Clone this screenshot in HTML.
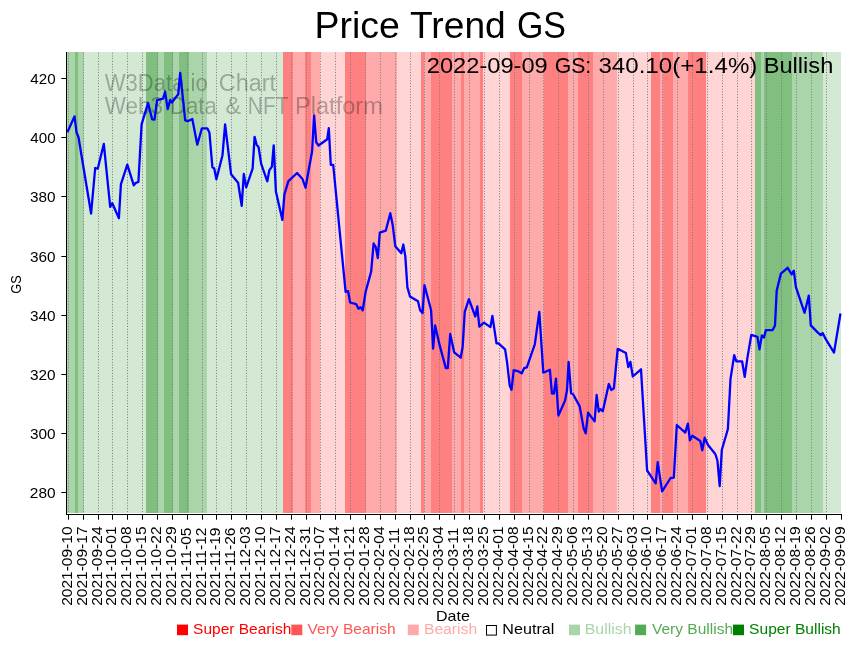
<!DOCTYPE html><html><head><meta charset="utf-8"><style>html,body{margin:0;padding:0;background:#fff;width:857px;height:646px;overflow:hidden}svg{display:block;will-change:transform}text{font-family:"Liberation Sans",sans-serif}</style></head><body>
<svg width="857" height="646" viewBox="0 0 857 646">
<text transform="translate(314.51,37.80) scale(1.0024,1)" font-size="37.4" fill="#000" >Price</text>
<text transform="translate(410.06,37.80) scale(0.9933,1)" font-size="37.4" fill="#000" >Trend</text>
<text transform="translate(516.90,37.80) scale(0.9071,1)" font-size="37.4" fill="#000" >GS</text>
<rect x="67" y="52.0" width="8" height="461.0" fill="#aad4aa"/>
<rect x="75" y="52.0" width="3" height="461.0" fill="#80bf80"/>
<rect x="78" y="52.0" width="6" height="461.0" fill="#aad4aa"/>
<rect x="84" y="52.0" width="62" height="461.0" fill="#d4e9d4"/>
<rect x="146" y="52.0" width="12" height="461.0" fill="#80bf80"/>
<rect x="158" y="52.0" width="6" height="461.0" fill="#aad4aa"/>
<rect x="164" y="52.0" width="9" height="461.0" fill="#80bf80"/>
<rect x="173" y="52.0" width="6" height="461.0" fill="#aad4aa"/>
<rect x="179" y="52.0" width="10" height="461.0" fill="#80bf80"/>
<rect x="189" y="52.0" width="18" height="461.0" fill="#aad4aa"/>
<rect x="207" y="52.0" width="76" height="461.0" fill="#d4e9d4"/>
<rect x="283" y="52.0" width="10" height="461.0" fill="#ff8080"/>
<rect x="293" y="52.0" width="12" height="461.0" fill="#ffaaaa"/>
<rect x="305" y="52.0" width="6" height="461.0" fill="#ff8080"/>
<rect x="311" y="52.0" width="9" height="461.0" fill="#ffaaaa"/>
<rect x="320" y="52.0" width="25" height="461.0" fill="#ffd4d4"/>
<rect x="345" y="52.0" width="21" height="461.0" fill="#ff8080"/>
<rect x="366" y="52.0" width="31" height="461.0" fill="#ffaaaa"/>
<rect x="397" y="52.0" width="24" height="461.0" fill="#ffd4d4"/>
<rect x="421" y="52.0" width="3" height="461.0" fill="#ff8080"/>
<rect x="424" y="52.0" width="7" height="461.0" fill="#ffaaaa"/>
<rect x="431" y="52.0" width="21" height="461.0" fill="#ff8080"/>
<rect x="452" y="52.0" width="9" height="461.0" fill="#ffaaaa"/>
<rect x="461" y="52.0" width="3" height="461.0" fill="#ff8080"/>
<rect x="464" y="52.0" width="16" height="461.0" fill="#ffaaaa"/>
<rect x="480" y="52.0" width="3" height="461.0" fill="#ff8080"/>
<rect x="483" y="52.0" width="27" height="461.0" fill="#ffd4d4"/>
<rect x="510" y="52.0" width="12" height="461.0" fill="#ff8080"/>
<rect x="522" y="52.0" width="22" height="461.0" fill="#ffaaaa"/>
<rect x="544" y="52.0" width="24" height="461.0" fill="#ff8080"/>
<rect x="568" y="52.0" width="10" height="461.0" fill="#ffaaaa"/>
<rect x="578" y="52.0" width="15" height="461.0" fill="#ff8080"/>
<rect x="593" y="52.0" width="24" height="461.0" fill="#ffaaaa"/>
<rect x="617" y="52.0" width="34" height="461.0" fill="#ffd4d4"/>
<rect x="651" y="52.0" width="9" height="461.0" fill="#ff8080"/>
<rect x="660" y="52.0" width="3" height="461.0" fill="#ffaaaa"/>
<rect x="663" y="52.0" width="10" height="461.0" fill="#ff8080"/>
<rect x="673" y="52.0" width="15" height="461.0" fill="#ffaaaa"/>
<rect x="688" y="52.0" width="18" height="461.0" fill="#ff8080"/>
<rect x="706" y="52.0" width="49" height="461.0" fill="#ffd4d4"/>
<rect x="755" y="52.0" width="6" height="461.0" fill="#80bf80"/>
<rect x="761" y="52.0" width="3" height="461.0" fill="#aad4aa"/>
<rect x="764" y="52.0" width="28" height="461.0" fill="#80bf80"/>
<rect x="792" y="52.0" width="31" height="461.0" fill="#aad4aa"/>
<rect x="823" y="52.0" width="18" height="461.0" fill="#d4e9d4"/>
<line x1="68.5" y1="513.0" x2="68.5" y2="52.0" stroke="#7a7a7a" stroke-width="1" stroke-dasharray="1 1.7593" stroke-dashoffset="1.56"/>
<line x1="83.5" y1="513.0" x2="83.5" y2="52.0" stroke="#7a7a7a" stroke-width="1" stroke-dasharray="1 1.7593" stroke-dashoffset="1.56"/>
<line x1="98.5" y1="513.0" x2="98.5" y2="52.0" stroke="#7a7a7a" stroke-width="1" stroke-dasharray="1 1.7593" stroke-dashoffset="1.56"/>
<line x1="112.5" y1="513.0" x2="112.5" y2="52.0" stroke="#7a7a7a" stroke-width="1" stroke-dasharray="1 1.7593" stroke-dashoffset="1.56"/>
<line x1="127.5" y1="513.0" x2="127.5" y2="52.0" stroke="#7a7a7a" stroke-width="1" stroke-dasharray="1 1.7593" stroke-dashoffset="1.56"/>
<line x1="142.5" y1="513.0" x2="142.5" y2="52.0" stroke="#7a7a7a" stroke-width="1" stroke-dasharray="1 1.7593" stroke-dashoffset="1.56"/>
<line x1="157.5" y1="513.0" x2="157.5" y2="52.0" stroke="#7a7a7a" stroke-width="1" stroke-dasharray="1 1.7593" stroke-dashoffset="1.56"/>
<line x1="172.5" y1="513.0" x2="172.5" y2="52.0" stroke="#7a7a7a" stroke-width="1" stroke-dasharray="1 1.7593" stroke-dashoffset="1.56"/>
<line x1="187.5" y1="513.0" x2="187.5" y2="52.0" stroke="#7a7a7a" stroke-width="1" stroke-dasharray="1 1.7593" stroke-dashoffset="1.56"/>
<line x1="202.5" y1="513.0" x2="202.5" y2="52.0" stroke="#7a7a7a" stroke-width="1" stroke-dasharray="1 1.7593" stroke-dashoffset="1.56"/>
<line x1="216.5" y1="513.0" x2="216.5" y2="52.0" stroke="#7a7a7a" stroke-width="1" stroke-dasharray="1 1.7593" stroke-dashoffset="1.56"/>
<line x1="231.5" y1="513.0" x2="231.5" y2="52.0" stroke="#7a7a7a" stroke-width="1" stroke-dasharray="1 1.7593" stroke-dashoffset="1.56"/>
<line x1="246.5" y1="513.0" x2="246.5" y2="52.0" stroke="#7a7a7a" stroke-width="1" stroke-dasharray="1 1.7593" stroke-dashoffset="1.56"/>
<line x1="261.5" y1="513.0" x2="261.5" y2="52.0" stroke="#7a7a7a" stroke-width="1" stroke-dasharray="1 1.7593" stroke-dashoffset="1.56"/>
<line x1="276.5" y1="513.0" x2="276.5" y2="52.0" stroke="#7a7a7a" stroke-width="1" stroke-dasharray="1 1.7593" stroke-dashoffset="1.56"/>
<line x1="291.5" y1="513.0" x2="291.5" y2="52.0" stroke="#7a7a7a" stroke-width="1" stroke-dasharray="1 1.7593" stroke-dashoffset="1.56"/>
<line x1="306.5" y1="513.0" x2="306.5" y2="52.0" stroke="#7a7a7a" stroke-width="1" stroke-dasharray="1 1.7593" stroke-dashoffset="1.56"/>
<line x1="320.5" y1="513.0" x2="320.5" y2="52.0" stroke="#7a7a7a" stroke-width="1" stroke-dasharray="1 1.7593" stroke-dashoffset="1.56"/>
<line x1="335.5" y1="513.0" x2="335.5" y2="52.0" stroke="#7a7a7a" stroke-width="1" stroke-dasharray="1 1.7593" stroke-dashoffset="1.56"/>
<line x1="350.5" y1="513.0" x2="350.5" y2="52.0" stroke="#7a7a7a" stroke-width="1" stroke-dasharray="1 1.7593" stroke-dashoffset="1.56"/>
<line x1="365.5" y1="513.0" x2="365.5" y2="52.0" stroke="#7a7a7a" stroke-width="1" stroke-dasharray="1 1.7593" stroke-dashoffset="1.56"/>
<line x1="380.5" y1="513.0" x2="380.5" y2="52.0" stroke="#7a7a7a" stroke-width="1" stroke-dasharray="1 1.7593" stroke-dashoffset="1.56"/>
<line x1="395.5" y1="513.0" x2="395.5" y2="52.0" stroke="#7a7a7a" stroke-width="1" stroke-dasharray="1 1.7593" stroke-dashoffset="1.56"/>
<line x1="410.5" y1="513.0" x2="410.5" y2="52.0" stroke="#7a7a7a" stroke-width="1" stroke-dasharray="1 1.7593" stroke-dashoffset="1.56"/>
<line x1="424.5" y1="513.0" x2="424.5" y2="52.0" stroke="#7a7a7a" stroke-width="1" stroke-dasharray="1 1.7593" stroke-dashoffset="1.56"/>
<line x1="439.5" y1="513.0" x2="439.5" y2="52.0" stroke="#7a7a7a" stroke-width="1" stroke-dasharray="1 1.7593" stroke-dashoffset="1.56"/>
<line x1="454.5" y1="513.0" x2="454.5" y2="52.0" stroke="#7a7a7a" stroke-width="1" stroke-dasharray="1 1.7593" stroke-dashoffset="1.56"/>
<line x1="469.5" y1="513.0" x2="469.5" y2="52.0" stroke="#7a7a7a" stroke-width="1" stroke-dasharray="1 1.7593" stroke-dashoffset="1.56"/>
<line x1="484.5" y1="513.0" x2="484.5" y2="52.0" stroke="#7a7a7a" stroke-width="1" stroke-dasharray="1 1.7593" stroke-dashoffset="1.56"/>
<line x1="499.5" y1="513.0" x2="499.5" y2="52.0" stroke="#7a7a7a" stroke-width="1" stroke-dasharray="1 1.7593" stroke-dashoffset="1.56"/>
<line x1="514.5" y1="513.0" x2="514.5" y2="52.0" stroke="#7a7a7a" stroke-width="1" stroke-dasharray="1 1.7593" stroke-dashoffset="1.56"/>
<line x1="529.5" y1="513.0" x2="529.5" y2="52.0" stroke="#7a7a7a" stroke-width="1" stroke-dasharray="1 1.7593" stroke-dashoffset="1.56"/>
<line x1="543.5" y1="513.0" x2="543.5" y2="52.0" stroke="#7a7a7a" stroke-width="1" stroke-dasharray="1 1.7593" stroke-dashoffset="1.56"/>
<line x1="558.5" y1="513.0" x2="558.5" y2="52.0" stroke="#7a7a7a" stroke-width="1" stroke-dasharray="1 1.7593" stroke-dashoffset="1.56"/>
<line x1="573.5" y1="513.0" x2="573.5" y2="52.0" stroke="#7a7a7a" stroke-width="1" stroke-dasharray="1 1.7593" stroke-dashoffset="1.56"/>
<line x1="588.5" y1="513.0" x2="588.5" y2="52.0" stroke="#7a7a7a" stroke-width="1" stroke-dasharray="1 1.7593" stroke-dashoffset="1.56"/>
<line x1="603.5" y1="513.0" x2="603.5" y2="52.0" stroke="#7a7a7a" stroke-width="1" stroke-dasharray="1 1.7593" stroke-dashoffset="1.56"/>
<line x1="618.5" y1="513.0" x2="618.5" y2="52.0" stroke="#7a7a7a" stroke-width="1" stroke-dasharray="1 1.7593" stroke-dashoffset="1.56"/>
<line x1="633.5" y1="513.0" x2="633.5" y2="52.0" stroke="#7a7a7a" stroke-width="1" stroke-dasharray="1 1.7593" stroke-dashoffset="1.56"/>
<line x1="647.5" y1="513.0" x2="647.5" y2="52.0" stroke="#7a7a7a" stroke-width="1" stroke-dasharray="1 1.7593" stroke-dashoffset="1.56"/>
<line x1="662.5" y1="513.0" x2="662.5" y2="52.0" stroke="#7a7a7a" stroke-width="1" stroke-dasharray="1 1.7593" stroke-dashoffset="1.56"/>
<line x1="677.5" y1="513.0" x2="677.5" y2="52.0" stroke="#7a7a7a" stroke-width="1" stroke-dasharray="1 1.7593" stroke-dashoffset="1.56"/>
<line x1="692.5" y1="513.0" x2="692.5" y2="52.0" stroke="#7a7a7a" stroke-width="1" stroke-dasharray="1 1.7593" stroke-dashoffset="1.56"/>
<line x1="707.5" y1="513.0" x2="707.5" y2="52.0" stroke="#7a7a7a" stroke-width="1" stroke-dasharray="1 1.7593" stroke-dashoffset="1.56"/>
<line x1="722.5" y1="513.0" x2="722.5" y2="52.0" stroke="#7a7a7a" stroke-width="1" stroke-dasharray="1 1.7593" stroke-dashoffset="1.56"/>
<line x1="737.5" y1="513.0" x2="737.5" y2="52.0" stroke="#7a7a7a" stroke-width="1" stroke-dasharray="1 1.7593" stroke-dashoffset="1.56"/>
<line x1="751.5" y1="513.0" x2="751.5" y2="52.0" stroke="#7a7a7a" stroke-width="1" stroke-dasharray="1 1.7593" stroke-dashoffset="1.56"/>
<line x1="766.5" y1="513.0" x2="766.5" y2="52.0" stroke="#7a7a7a" stroke-width="1" stroke-dasharray="1 1.7593" stroke-dashoffset="1.56"/>
<line x1="781.5" y1="513.0" x2="781.5" y2="52.0" stroke="#7a7a7a" stroke-width="1" stroke-dasharray="1 1.7593" stroke-dashoffset="1.56"/>
<line x1="796.5" y1="513.0" x2="796.5" y2="52.0" stroke="#7a7a7a" stroke-width="1" stroke-dasharray="1 1.7593" stroke-dashoffset="1.56"/>
<line x1="811.5" y1="513.0" x2="811.5" y2="52.0" stroke="#7a7a7a" stroke-width="1" stroke-dasharray="1 1.7593" stroke-dashoffset="1.56"/>
<line x1="826.5" y1="513.0" x2="826.5" y2="52.0" stroke="#7a7a7a" stroke-width="1" stroke-dasharray="1 1.7593" stroke-dashoffset="1.56"/>
<text transform="translate(104.79,90.60) scale(0.9461,1)" font-size="23.3" fill="#000" fill-opacity="0.28">W3Data.io</text>
<text transform="translate(218.73,90.60) scale(1.0067,1)" font-size="23.3" fill="#000" fill-opacity="0.28">Chart</text>
<text transform="translate(104.79,113.60) scale(0.9646,1)" font-size="23.3" fill="#000" fill-opacity="0.28">Web3</text>
<text transform="translate(169.97,113.60) scale(0.9535,1)" font-size="23.3" fill="#000" fill-opacity="0.28">Data</text>
<text transform="translate(225.58,113.60) scale(1.0078,1)" font-size="23.3" fill="#000" fill-opacity="0.28">&amp;</text>
<text transform="translate(247.87,113.60) scale(0.8992,1)" font-size="23.3" fill="#000" fill-opacity="0.28">NFT</text>
<text transform="translate(294.95,113.60) scale(1.0144,1)" font-size="23.3" fill="#000" fill-opacity="0.28">Platform</text>
<text transform="translate(426.82,73.00) scale(1.0463,1)" font-size="22.6" fill="#000" >2022-09-09</text>
<text transform="translate(554.64,73.00) scale(0.9395,1)" font-size="22.6" fill="#000" >GS:</text>
<text transform="translate(598.39,73.00) scale(1.0684,1)" font-size="22.6" fill="#000" >340.10(+1.4%)</text>
<text transform="translate(763.75,73.00) scale(1.0446,1)" font-size="22.6" fill="#000" >Bullish</text>
<polyline fill="none" stroke="#0000ff" stroke-width="2.3" stroke-linejoin="round" stroke-linecap="butt" points="67.4,132.2 74.5,116.4 76.5,132.2 78.5,137.2 91.1,213.5 95.2,168.0 97.8,168.6 103.8,143.9 110.2,206.8 112.3,203.2 118.9,218.3 120.9,184.4 127.3,164.6 133.8,185.3 135.8,182.8 138.4,182.0 141.6,124.3 148.1,102.9 152.1,119.3 154.5,119.6 157.1,100.2 163.1,98.6 165.1,91.8 167.7,109.1 170.2,99.9 171.8,102.5 178.2,94.2 180.2,72.8 185.2,120.3 187.8,121.2 192.3,119.0 197.3,144.7 201.9,128.3 207.3,128.3 209.4,132.4 212.4,167.5 214.2,168.2 216.4,179.3 222.5,155.2 225.1,124.4 231.1,174.3 238.1,182.8 241.7,205.8 243.8,174.0 246.2,187.3 252.6,168.7 254.6,136.8 256.6,144.6 258.6,147.2 261.2,163.9 267.3,181.3 269.3,170.3 271.9,166.7 273.7,145.3 275.9,191.4 282.4,219.9 284.4,194.4 288.4,181.2 297.1,173.0 302.5,179.0 305.5,187.7 312.1,151.2 314.1,115.3 316.2,142.2 318.6,145.5 327.2,139.2 328.8,128.2 330.8,164.9 333.2,164.9 345.6,291.8 348.1,291.2 350.1,302.5 356.1,304.1 358.5,308.8 360.5,307.2 362.7,310.3 365.7,291.5 371.2,271.4 373.6,243.5 375.8,247.2 377.8,258.0 379.8,232.6 385.8,230.6 390.3,213.2 392.7,225.1 395.3,246.2 401.3,253.2 403.3,244.5 405.3,256.3 407.4,287.4 410.0,296.5 418.0,301.2 420.1,310.2 422.5,313.1 424.5,285.2 431.1,310.2 433.1,348.7 435.1,325.4 439.7,345.4 445.8,368.1 447.8,368.2 450.2,334.0 454.2,352.4 460.7,357.7 462.7,346.4 464.7,312.2 468.9,299.2 475.3,316.5 477.3,306.5 479.3,326.6 484.0,322.6 490.4,327.1 492.4,315.8 496.5,343.3 498.5,343.3 505.1,349.3 507.1,362.4 509.7,385.5 511.5,389.8 513.7,370.1 518.6,371.4 521.8,373.3 524.2,368.1 526.8,367.3 534.8,344.3 539.3,311.8 543.3,372.7 549.9,369.7 551.9,393.5 553.9,393.5 556.0,378.7 558.4,415.5 565.0,400.8 567.0,390.3 568.6,361.9 571.1,393.3 573.1,394.3 579.7,406.4 583.7,428.5 585.7,433.4 588.1,412.7 594.6,421.4 596.6,395.0 598.8,411.7 600.6,409.1 602.8,411.3 608.8,384.0 611.3,390.0 613.9,388.3 617.7,348.8 625.9,353.1 628.3,367.1 630.4,361.9 632.8,376.5 641.0,369.3 647.1,470.5 655.7,483.3 657.7,462.2 662.1,491.3 670.6,478.0 673.8,477.6 676.8,425.0 685.2,432.6 687.9,423.6 689.9,440.3 692.3,435.7 700.3,441.0 702.3,450.3 704.7,437.7 708.0,445.0 715.3,454.0 717.4,460.5 719.7,486.1 721.8,450.0 727.9,429.0 730.5,378.9 734.2,355.2 736.3,361.3 742.1,361.3 744.7,376.9 747.4,357.9 751.3,334.9 757.4,336.8 759.5,349.3 761.9,335.4 763.9,337.6 765.9,330.1 772.7,330.1 775.0,325.4 776.7,290.6 780.9,273.6 787.6,267.8 791.7,274.3 793.8,270.7 795.9,287.2 804.6,312.8 808.8,295.6 810.8,325.4 817.6,332.4 820.7,335.1 822.7,333.1 825.0,337.8 834.0,352.6 840.5,313.5"/>
<rect x="66" y="52.0" width="1" height="463.0" fill="#000"/>
<rect x="66" y="514" width="776" height="1" fill="#000"/>
<line x1="61.3" y1="492.50" x2="66" y2="492.50" stroke="#000" stroke-width="1"/>
<text transform="translate(29.83,498.00) scale(1.1110,1)" font-size="13.9" fill="#000" >280</text>
<line x1="61.3" y1="433.50" x2="66" y2="433.50" stroke="#000" stroke-width="1"/>
<text transform="translate(30.03,439.00) scale(1.1023,1)" font-size="13.9" fill="#000" >300</text>
<line x1="61.3" y1="374.50" x2="66" y2="374.50" stroke="#000" stroke-width="1"/>
<text transform="translate(30.03,380.00) scale(1.1023,1)" font-size="13.9" fill="#000" >320</text>
<line x1="61.3" y1="315.50" x2="66" y2="315.50" stroke="#000" stroke-width="1"/>
<text transform="translate(30.03,321.00) scale(1.1023,1)" font-size="13.9" fill="#000" >340</text>
<line x1="61.3" y1="256.50" x2="66" y2="256.50" stroke="#000" stroke-width="1"/>
<text transform="translate(30.03,262.00) scale(1.1023,1)" font-size="13.9" fill="#000" >360</text>
<line x1="61.3" y1="196.50" x2="66" y2="196.50" stroke="#000" stroke-width="1"/>
<text transform="translate(30.03,202.00) scale(1.1023,1)" font-size="13.9" fill="#000" >380</text>
<line x1="61.3" y1="137.50" x2="66" y2="137.50" stroke="#000" stroke-width="1"/>
<text transform="translate(30.26,143.00) scale(1.0920,1)" font-size="13.9" fill="#000" >400</text>
<line x1="61.3" y1="78.50" x2="66" y2="78.50" stroke="#000" stroke-width="1"/>
<text transform="translate(30.26,84.00) scale(1.0920,1)" font-size="13.9" fill="#000" >420</text>
<line x1="68.5" y1="515" x2="68.5" y2="519.7" stroke="#000" stroke-width="1"/>
<text transform="translate(71.70,605.78) rotate(-90) scale(1.1162,1)" font-size="13.9" fill="#000" >2021-09-10</text>
<line x1="83.5" y1="515" x2="83.5" y2="519.7" stroke="#000" stroke-width="1"/>
<text transform="translate(86.70,605.78) rotate(-90) scale(1.1162,1)" font-size="13.9" fill="#000" >2021-09-17</text>
<line x1="98.5" y1="515" x2="98.5" y2="519.7" stroke="#000" stroke-width="1"/>
<text transform="translate(101.70,605.78) rotate(-90) scale(1.1162,1)" font-size="13.9" fill="#000" >2021-09-24</text>
<line x1="112.5" y1="515" x2="112.5" y2="519.7" stroke="#000" stroke-width="1"/>
<text transform="translate(115.70,605.78) rotate(-90) scale(1.1162,1)" font-size="13.9" fill="#000" >2021-10-01</text>
<line x1="127.5" y1="515" x2="127.5" y2="519.7" stroke="#000" stroke-width="1"/>
<text transform="translate(130.70,605.78) rotate(-90) scale(1.1162,1)" font-size="13.9" fill="#000" >2021-10-08</text>
<line x1="142.5" y1="515" x2="142.5" y2="519.7" stroke="#000" stroke-width="1"/>
<text transform="translate(145.70,605.78) rotate(-90) scale(1.1162,1)" font-size="13.9" fill="#000" >2021-10-15</text>
<line x1="157.5" y1="515" x2="157.5" y2="519.7" stroke="#000" stroke-width="1"/>
<text transform="translate(160.70,605.78) rotate(-90) scale(1.1162,1)" font-size="13.9" fill="#000" >2021-10-22</text>
<line x1="172.5" y1="515" x2="172.5" y2="519.7" stroke="#000" stroke-width="1"/>
<text transform="translate(175.70,605.78) rotate(-90) scale(1.1162,1)" font-size="13.9" fill="#000" >2021-10-29</text>
<line x1="187.5" y1="515" x2="187.5" y2="519.7" stroke="#000" stroke-width="1"/>
<text transform="translate(190.70,605.78) rotate(-90) scale(1.1162,1)" font-size="13.9" fill="#000" >2021-11-05</text>
<line x1="202.5" y1="515" x2="202.5" y2="519.7" stroke="#000" stroke-width="1"/>
<text transform="translate(205.70,605.78) rotate(-90) scale(1.1162,1)" font-size="13.9" fill="#000" >2021-11-12</text>
<line x1="216.5" y1="515" x2="216.5" y2="519.7" stroke="#000" stroke-width="1"/>
<text transform="translate(219.70,605.78) rotate(-90) scale(1.1162,1)" font-size="13.9" fill="#000" >2021-11-19</text>
<line x1="231.5" y1="515" x2="231.5" y2="519.7" stroke="#000" stroke-width="1"/>
<text transform="translate(234.70,605.78) rotate(-90) scale(1.1162,1)" font-size="13.9" fill="#000" >2021-11-26</text>
<line x1="246.5" y1="515" x2="246.5" y2="519.7" stroke="#000" stroke-width="1"/>
<text transform="translate(249.70,605.78) rotate(-90) scale(1.1162,1)" font-size="13.9" fill="#000" >2021-12-03</text>
<line x1="261.5" y1="515" x2="261.5" y2="519.7" stroke="#000" stroke-width="1"/>
<text transform="translate(264.70,605.78) rotate(-90) scale(1.1162,1)" font-size="13.9" fill="#000" >2021-12-10</text>
<line x1="276.5" y1="515" x2="276.5" y2="519.7" stroke="#000" stroke-width="1"/>
<text transform="translate(279.70,605.78) rotate(-90) scale(1.1162,1)" font-size="13.9" fill="#000" >2021-12-17</text>
<line x1="291.5" y1="515" x2="291.5" y2="519.7" stroke="#000" stroke-width="1"/>
<text transform="translate(294.70,605.78) rotate(-90) scale(1.1162,1)" font-size="13.9" fill="#000" >2021-12-24</text>
<line x1="306.5" y1="515" x2="306.5" y2="519.7" stroke="#000" stroke-width="1"/>
<text transform="translate(309.70,605.78) rotate(-90) scale(1.1162,1)" font-size="13.9" fill="#000" >2021-12-31</text>
<line x1="320.5" y1="515" x2="320.5" y2="519.7" stroke="#000" stroke-width="1"/>
<text transform="translate(323.70,605.78) rotate(-90) scale(1.1162,1)" font-size="13.9" fill="#000" >2022-01-07</text>
<line x1="335.5" y1="515" x2="335.5" y2="519.7" stroke="#000" stroke-width="1"/>
<text transform="translate(338.70,605.78) rotate(-90) scale(1.1162,1)" font-size="13.9" fill="#000" >2022-01-14</text>
<line x1="350.5" y1="515" x2="350.5" y2="519.7" stroke="#000" stroke-width="1"/>
<text transform="translate(353.70,605.78) rotate(-90) scale(1.1162,1)" font-size="13.9" fill="#000" >2022-01-21</text>
<line x1="365.5" y1="515" x2="365.5" y2="519.7" stroke="#000" stroke-width="1"/>
<text transform="translate(368.70,605.78) rotate(-90) scale(1.1162,1)" font-size="13.9" fill="#000" >2022-01-28</text>
<line x1="380.5" y1="515" x2="380.5" y2="519.7" stroke="#000" stroke-width="1"/>
<text transform="translate(383.70,605.78) rotate(-90) scale(1.1162,1)" font-size="13.9" fill="#000" >2022-02-04</text>
<line x1="395.5" y1="515" x2="395.5" y2="519.7" stroke="#000" stroke-width="1"/>
<text transform="translate(398.70,605.78) rotate(-90) scale(1.1162,1)" font-size="13.9" fill="#000" >2022-02-11</text>
<line x1="410.5" y1="515" x2="410.5" y2="519.7" stroke="#000" stroke-width="1"/>
<text transform="translate(413.70,605.78) rotate(-90) scale(1.1162,1)" font-size="13.9" fill="#000" >2022-02-18</text>
<line x1="424.5" y1="515" x2="424.5" y2="519.7" stroke="#000" stroke-width="1"/>
<text transform="translate(427.70,605.78) rotate(-90) scale(1.1162,1)" font-size="13.9" fill="#000" >2022-02-25</text>
<line x1="439.5" y1="515" x2="439.5" y2="519.7" stroke="#000" stroke-width="1"/>
<text transform="translate(442.70,605.78) rotate(-90) scale(1.1162,1)" font-size="13.9" fill="#000" >2022-03-04</text>
<line x1="454.5" y1="515" x2="454.5" y2="519.7" stroke="#000" stroke-width="1"/>
<text transform="translate(457.70,605.78) rotate(-90) scale(1.1162,1)" font-size="13.9" fill="#000" >2022-03-11</text>
<line x1="469.5" y1="515" x2="469.5" y2="519.7" stroke="#000" stroke-width="1"/>
<text transform="translate(472.70,605.78) rotate(-90) scale(1.1162,1)" font-size="13.9" fill="#000" >2022-03-18</text>
<line x1="484.5" y1="515" x2="484.5" y2="519.7" stroke="#000" stroke-width="1"/>
<text transform="translate(487.70,605.78) rotate(-90) scale(1.1162,1)" font-size="13.9" fill="#000" >2022-03-25</text>
<line x1="499.5" y1="515" x2="499.5" y2="519.7" stroke="#000" stroke-width="1"/>
<text transform="translate(502.70,605.78) rotate(-90) scale(1.1162,1)" font-size="13.9" fill="#000" >2022-04-01</text>
<line x1="514.5" y1="515" x2="514.5" y2="519.7" stroke="#000" stroke-width="1"/>
<text transform="translate(517.70,605.78) rotate(-90) scale(1.1162,1)" font-size="13.9" fill="#000" >2022-04-08</text>
<line x1="529.5" y1="515" x2="529.5" y2="519.7" stroke="#000" stroke-width="1"/>
<text transform="translate(532.70,605.78) rotate(-90) scale(1.1162,1)" font-size="13.9" fill="#000" >2022-04-15</text>
<line x1="543.5" y1="515" x2="543.5" y2="519.7" stroke="#000" stroke-width="1"/>
<text transform="translate(546.70,605.78) rotate(-90) scale(1.1162,1)" font-size="13.9" fill="#000" >2022-04-22</text>
<line x1="558.5" y1="515" x2="558.5" y2="519.7" stroke="#000" stroke-width="1"/>
<text transform="translate(561.70,605.78) rotate(-90) scale(1.1162,1)" font-size="13.9" fill="#000" >2022-04-29</text>
<line x1="573.5" y1="515" x2="573.5" y2="519.7" stroke="#000" stroke-width="1"/>
<text transform="translate(576.70,605.78) rotate(-90) scale(1.1162,1)" font-size="13.9" fill="#000" >2022-05-06</text>
<line x1="588.5" y1="515" x2="588.5" y2="519.7" stroke="#000" stroke-width="1"/>
<text transform="translate(591.70,605.78) rotate(-90) scale(1.1162,1)" font-size="13.9" fill="#000" >2022-05-13</text>
<line x1="603.5" y1="515" x2="603.5" y2="519.7" stroke="#000" stroke-width="1"/>
<text transform="translate(606.70,605.78) rotate(-90) scale(1.1162,1)" font-size="13.9" fill="#000" >2022-05-20</text>
<line x1="618.5" y1="515" x2="618.5" y2="519.7" stroke="#000" stroke-width="1"/>
<text transform="translate(621.70,605.78) rotate(-90) scale(1.1162,1)" font-size="13.9" fill="#000" >2022-05-27</text>
<line x1="633.5" y1="515" x2="633.5" y2="519.7" stroke="#000" stroke-width="1"/>
<text transform="translate(636.70,605.78) rotate(-90) scale(1.1162,1)" font-size="13.9" fill="#000" >2022-06-03</text>
<line x1="647.5" y1="515" x2="647.5" y2="519.7" stroke="#000" stroke-width="1"/>
<text transform="translate(650.70,605.78) rotate(-90) scale(1.1162,1)" font-size="13.9" fill="#000" >2022-06-10</text>
<line x1="662.5" y1="515" x2="662.5" y2="519.7" stroke="#000" stroke-width="1"/>
<text transform="translate(665.70,605.78) rotate(-90) scale(1.1162,1)" font-size="13.9" fill="#000" >2022-06-17</text>
<line x1="677.5" y1="515" x2="677.5" y2="519.7" stroke="#000" stroke-width="1"/>
<text transform="translate(680.70,605.78) rotate(-90) scale(1.1162,1)" font-size="13.9" fill="#000" >2022-06-24</text>
<line x1="692.5" y1="515" x2="692.5" y2="519.7" stroke="#000" stroke-width="1"/>
<text transform="translate(695.70,605.78) rotate(-90) scale(1.1162,1)" font-size="13.9" fill="#000" >2022-07-01</text>
<line x1="707.5" y1="515" x2="707.5" y2="519.7" stroke="#000" stroke-width="1"/>
<text transform="translate(710.70,605.78) rotate(-90) scale(1.1162,1)" font-size="13.9" fill="#000" >2022-07-08</text>
<line x1="722.5" y1="515" x2="722.5" y2="519.7" stroke="#000" stroke-width="1"/>
<text transform="translate(725.70,605.78) rotate(-90) scale(1.1162,1)" font-size="13.9" fill="#000" >2022-07-15</text>
<line x1="737.5" y1="515" x2="737.5" y2="519.7" stroke="#000" stroke-width="1"/>
<text transform="translate(740.70,605.78) rotate(-90) scale(1.1162,1)" font-size="13.9" fill="#000" >2022-07-22</text>
<line x1="751.5" y1="515" x2="751.5" y2="519.7" stroke="#000" stroke-width="1"/>
<text transform="translate(754.70,605.78) rotate(-90) scale(1.1162,1)" font-size="13.9" fill="#000" >2022-07-29</text>
<line x1="766.5" y1="515" x2="766.5" y2="519.7" stroke="#000" stroke-width="1"/>
<text transform="translate(769.70,605.78) rotate(-90) scale(1.1162,1)" font-size="13.9" fill="#000" >2022-08-05</text>
<line x1="781.5" y1="515" x2="781.5" y2="519.7" stroke="#000" stroke-width="1"/>
<text transform="translate(784.70,605.78) rotate(-90) scale(1.1162,1)" font-size="13.9" fill="#000" >2022-08-12</text>
<line x1="796.5" y1="515" x2="796.5" y2="519.7" stroke="#000" stroke-width="1"/>
<text transform="translate(799.70,605.78) rotate(-90) scale(1.1162,1)" font-size="13.9" fill="#000" >2022-08-19</text>
<line x1="811.5" y1="515" x2="811.5" y2="519.7" stroke="#000" stroke-width="1"/>
<text transform="translate(814.70,605.78) rotate(-90) scale(1.1162,1)" font-size="13.9" fill="#000" >2022-08-26</text>
<line x1="826.5" y1="515" x2="826.5" y2="519.7" stroke="#000" stroke-width="1"/>
<text transform="translate(829.70,605.78) rotate(-90) scale(1.1162,1)" font-size="13.9" fill="#000" >2022-09-02</text>
<line x1="841.5" y1="515" x2="841.5" y2="519.7" stroke="#000" stroke-width="1"/>
<text transform="translate(844.70,605.78) rotate(-90) scale(1.1162,1)" font-size="13.9" fill="#000" >2022-09-09</text>
<text transform="translate(435.98,620.80) scale(1.1525,1)" font-size="13.9" fill="#000" >Date</text>
<text transform="translate(21.30,293.74) rotate(-90) scale(0.9166,1)" font-size="13.9" fill="#000" >GS</text>
<rect x="177.0" y="624.6" width="11" height="10.6" fill="#ff0000"/>
<text transform="translate(193.10,634.00) scale(1.1160,1)" font-size="13.9" fill="#ff0000" >Super Bearish</text>
<rect x="291.3" y="624.6" width="11" height="10.6" fill="#ff5555"/>
<text transform="translate(307.52,634.00) scale(1.1177,1)" font-size="13.9" fill="#ff5555" >Very Bearish</text>
<rect x="407.8" y="624.6" width="11" height="10.6" fill="#ffaaaa"/>
<text transform="translate(423.90,634.00) scale(1.1307,1)" font-size="13.9" fill="#ffaaaa" >Bearish</text>
<rect x="486.5" y="625.5" width="9.9" height="9.6" fill="none" stroke="#000" stroke-width="1"/>
<text transform="translate(502.37,634.00) scale(1.1604,1)" font-size="13.9" fill="#000000" >Neutral</text>
<rect x="569.0" y="624.6" width="11" height="10.6" fill="#aad4aa"/>
<text transform="translate(584.79,634.00) scale(1.1434,1)" font-size="13.9" fill="#aad4aa" >Bullish</text>
<rect x="635.1" y="624.6" width="11" height="10.6" fill="#55aa55"/>
<text transform="translate(651.92,634.00) scale(1.1179,1)" font-size="13.9" fill="#55aa55" >Very Bullish</text>
<rect x="733.0" y="624.6" width="11" height="10.6" fill="#008000"/>
<text transform="translate(749.10,634.00) scale(1.1197,1)" font-size="13.9" fill="#008000" >Super Bullish</text>
</svg></body></html>
